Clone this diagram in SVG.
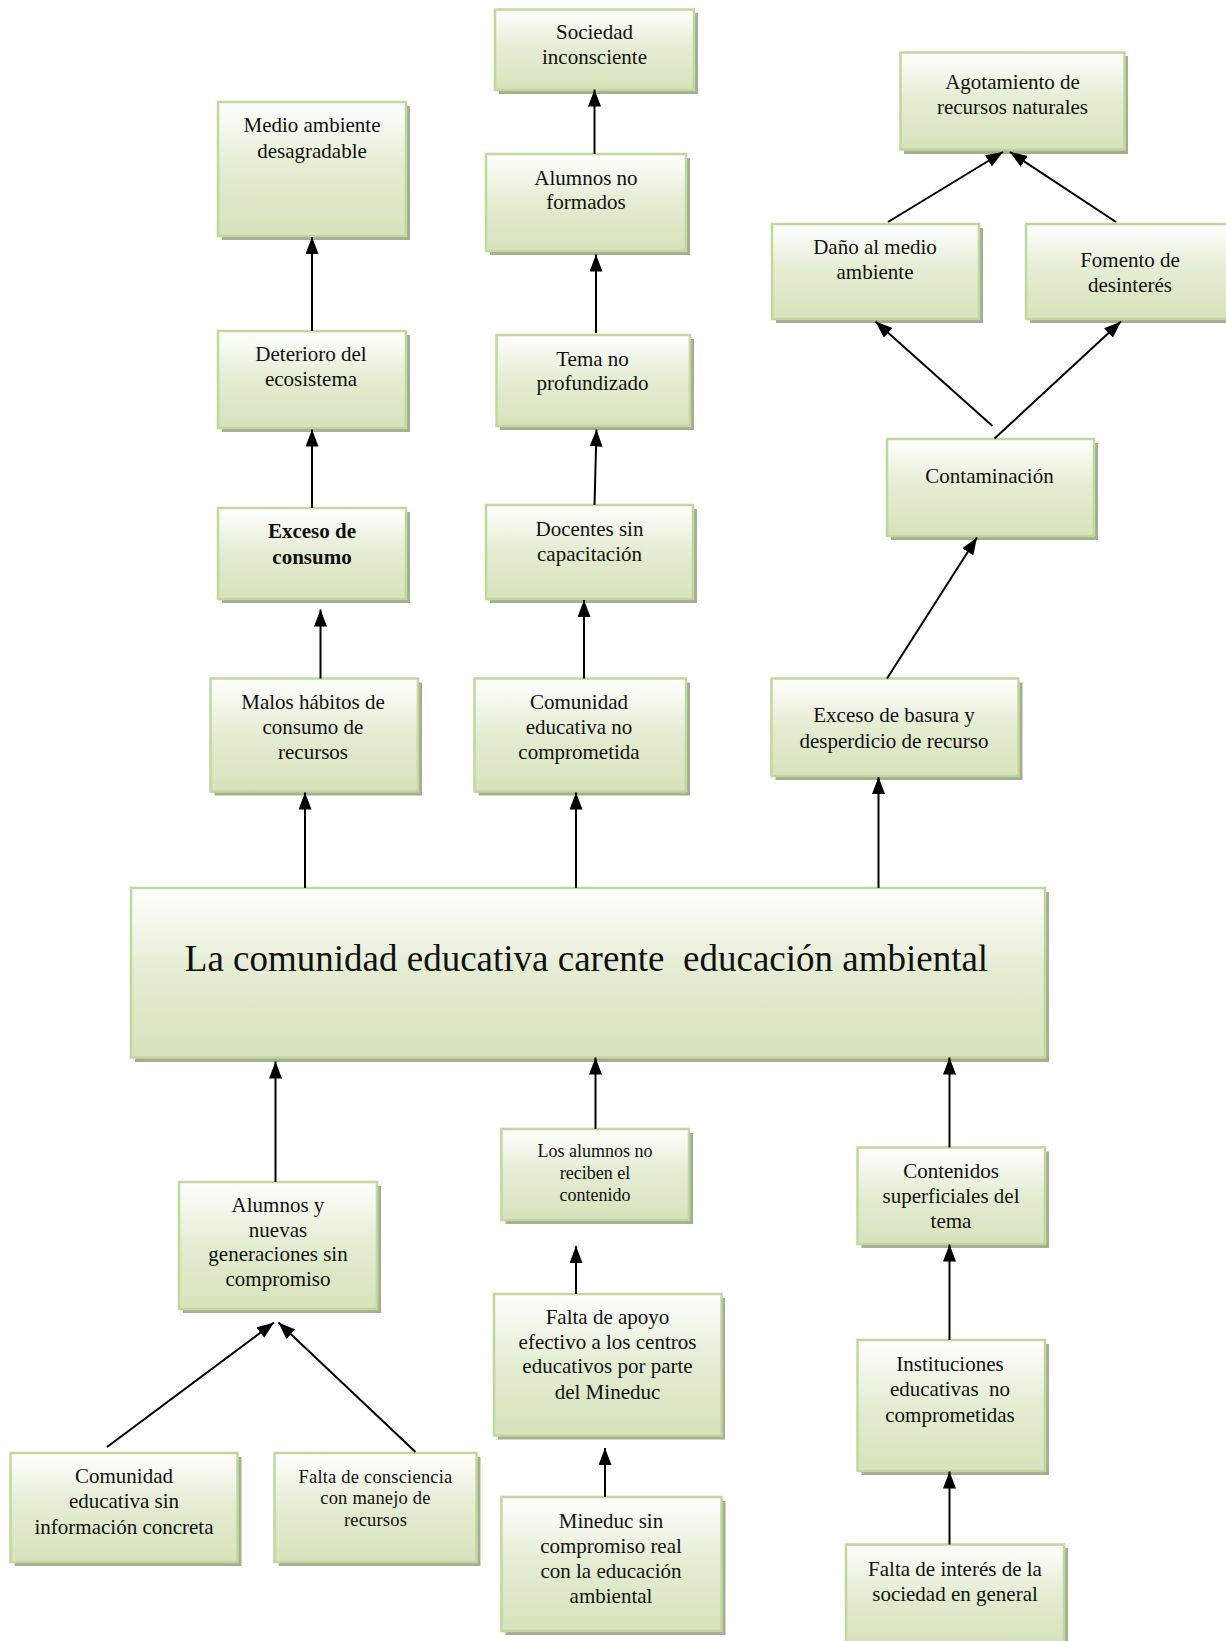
<svg xmlns="http://www.w3.org/2000/svg" width="1226" height="1641" viewBox="0 0 1226 1641">
<style>
.s{fill:#a5ae91}
.b{fill:url(#g);stroke:#c3d69b;stroke-width:2.5}
text{font-family:"Liberation Serif","Times New Roman",serif;font-size:21px;fill:#111;text-anchor:middle}
.sm{font-size:18px}
.sm2{font-size:18.5px;letter-spacing:0.2px}
.big{font-size:37px;white-space:pre}
.bold{font-weight:bold}
#connectors line{stroke:#000;stroke-width:2;marker-end:url(#ah)}
</style>
<defs>
<linearGradient id="g" x1="0" y1="0" x2="0" y2="1">
<stop offset="0" stop-color="#ffffff"/>
<stop offset="0.5" stop-color="#e4ecd2"/>
<stop offset="1" stop-color="#d7e3bb"/>
</linearGradient>
<marker id="ah" markerUnits="userSpaceOnUse" markerWidth="18" markerHeight="14" refX="17" refY="6.5" orient="auto">
<path d="M0,0 L17,6.5 L0,13 z" fill="#000"/>
</marker>
</defs>
<rect width="1226" height="1641" fill="#fff"/>

<g id="n-sociedad"><rect class="s" x="499" y="13" width="199" height="81"/><rect class="b" x="495" y="9.5" width="199" height="80.5"/>
<text x="594.5" y="38.5">Sociedad</text><text x="594.5" y="63.5">inconsciente</text></g>

<g id="n-medio"><rect class="s" x="222" y="106" width="188" height="134"/><rect class="b" x="218" y="102" width="188" height="134"/>
<text x="312" y="131.5">Medio ambiente</text><text x="312" y="157.5">desagradable</text></g>

<g id="n-agotamiento"><rect class="s" x="904" y="56" width="224" height="98"/><rect class="b" x="900.5" y="52.5" width="224" height="97"/>
<text x="1012.5" y="88.5">Agotamiento de</text><text x="1012.5" y="113.5">recursos naturales</text></g>

<g id="n-alumnosnoformados"><rect class="s" x="490" y="158" width="200" height="97"/><rect class="b" x="486" y="154" width="200" height="97"/>
<text x="586" y="185">Alumnos no</text><text x="586" y="209">formados</text></g>

<g id="n-dano"><rect class="s" x="776" y="228" width="207" height="95"/><rect class="b" x="772" y="224" width="207" height="95"/>
<text x="875" y="254">Daño al medio</text><text x="875" y="279">ambiente</text></g>

<g id="n-fomento"><rect class="s" x="1030" y="228" width="210" height="95"/><rect class="b" x="1026" y="224" width="210" height="95"/>
<text x="1130" y="266.5">Fomento de</text><text x="1130" y="291.5">desinterés</text></g>

<g id="n-deterioro"><rect class="s" x="222" y="335" width="188" height="97"/><rect class="b" x="218" y="331" width="188" height="97"/>
<text x="311" y="361">Deterioro del</text><text x="311" y="386">ecosistema</text></g>

<g id="n-tema"><rect class="s" x="500" y="339" width="194" height="91"/><rect class="b" x="496.5" y="335" width="193.5" height="91"/>
<text x="592.5" y="366">Tema no</text><text x="592.5" y="390">profundizado</text></g>

<g id="n-contaminacion"><rect class="s" x="891" y="443" width="207" height="97"/><rect class="b" x="887" y="439" width="207" height="97"/>
<text x="989.5" y="483">Contaminación</text></g>

<g id="n-excesoconsumo"><rect class="s" x="222" y="512" width="188" height="91"/><rect class="b" x="218" y="508" width="188" height="91"/>
<text class="bold" x="312" y="538">Exceso de</text><text class="bold" x="312" y="564">consumo</text></g>

<g id="n-docentes"><rect class="s" x="490" y="509" width="207" height="94"/><rect class="b" x="486" y="505" width="207" height="94"/>
<text x="589.5" y="536">Docentes sin</text><text x="589.5" y="561">capacitación</text></g>

<g id="n-malos"><rect class="s" x="214.5" y="682.5" width="207.5" height="113"/><rect class="b" x="210.5" y="678.5" width="207.5" height="113"/>
<text x="313" y="708.5">Malos hábitos de</text><text x="313" y="733.5">consumo de</text><text x="313" y="758.5">recursos</text></g>

<g id="n-comunidadnocomp"><rect class="s" x="478.5" y="682.5" width="211.5" height="113"/><rect class="b" x="474.5" y="678.5" width="211.5" height="113"/>
<text x="579" y="708.5">Comunidad</text><text x="579" y="733.5">educativa no</text><text x="579" y="758.5">comprometida</text></g>

<g id="n-basura"><rect class="s" x="775.5" y="682.5" width="247" height="97.5"/><rect class="b" x="771.5" y="678.5" width="247" height="97.5"/>
<text x="894" y="722">Exceso de basura y</text><text x="894" y="748">desperdicio de recurso</text></g>

<g id="n-main"><rect class="s" x="135" y="892" width="914" height="170"/><rect class="b" x="131" y="888" width="914" height="169.5"/>
<text class="big" x="586.5" y="971" xml:space="preserve">La comunidad educativa carente  educación ambiental</text></g>

<g id="n-losalumnos"><rect class="s" x="505.5" y="1133" width="187.5" height="91"/><rect class="b" x="501.5" y="1129" width="187.5" height="91"/>
<text class="sm" x="595" y="1156.5">Los alumnos no</text><text class="sm" x="595" y="1178.5">reciben el</text><text class="sm" x="595" y="1200.5">contenido</text></g>

<g id="n-contenidos"><rect class="s" x="861.5" y="1151.5" width="187.5" height="96.5"/><rect class="b" x="857.5" y="1147.5" width="187.5" height="96.5"/>
<text x="951" y="1177.5">Contenidos</text><text x="951" y="1202.5">superficiales del</text><text x="951" y="1227.5">tema</text></g>

<g id="n-alumnosnuevas"><rect class="s" x="183" y="1186" width="198" height="127"/><rect class="b" x="179" y="1182" width="198" height="127"/>
<text x="278" y="1212">Alumnos y</text><text x="278" y="1237">nuevas</text><text x="278" y="1261">generaciones sin</text><text x="278" y="1286">compromiso</text></g>

<g id="n-faltaapoyo"><rect class="s" x="498" y="1298" width="227" height="141.5"/><rect class="b" x="494" y="1294" width="227.5" height="141.5"/>
<text x="607.5" y="1324">Falta de apoyo</text><text x="607.5" y="1349">efectivo a los centros</text><text x="607.5" y="1373">educativos por parte</text><text x="607.5" y="1398.5">del Mineduc</text></g>

<g id="n-instituciones"><rect class="s" x="861.5" y="1344" width="187.5" height="131"/><rect class="b" x="857.5" y="1340" width="187.5" height="131"/>
<text x="950" y="1371">Instituciones</text><text x="950" y="1396" xml:space="preserve" style="white-space:pre">educativas  no</text><text x="950" y="1421.5">comprometidas</text></g>

<g id="n-comsininfo"><rect class="s" x="14.5" y="1457" width="227" height="109"/><rect class="b" x="10.5" y="1453" width="227" height="109"/>
<text x="124" y="1483">Comunidad</text><text x="124" y="1508">educativa sin</text><text x="124" y="1533.5">información concreta</text></g>

<g id="n-faltaconsciencia"><rect class="s" x="278.5" y="1457" width="202" height="109"/><rect class="b" x="274.5" y="1453" width="202" height="109"/>
<text class="sm2" x="375.5" y="1482.5">Falta de consciencia</text><text class="sm2" x="375.5" y="1504">con manejo de</text><text class="sm2" x="375.5" y="1525.5">recursos</text></g>

<g id="n-mineduc"><rect class="s" x="505.5" y="1501" width="220" height="134"/><rect class="b" x="501.5" y="1497" width="220" height="134"/>
<text x="611" y="1528">Mineduc sin</text><text x="611" y="1553">compromiso real</text><text x="611" y="1577.5">con la educación</text><text x="611" y="1602.5">ambiental</text></g>

<g id="n-faltainteres"><rect class="s" x="850" y="1548" width="218" height="100"/><rect class="b" x="846" y="1544.5" width="218" height="100"/>
<text x="955" y="1575.5">Falta de interés de la</text><text x="955" y="1600.5">sociedad en general</text></g>

<g id="connectors">
<line x1="312" y1="331" x2="312" y2="237"/>
<line x1="312" y1="508" x2="312" y2="429.5"/>
<line x1="320.5" y1="678.5" x2="320.5" y2="609.5"/>
<line x1="305" y1="888" x2="305" y2="792.5"/>
<line x1="594.5" y1="154" x2="594.5" y2="89.5"/>
<line x1="596" y1="333" x2="596" y2="254.5"/>
<line x1="594.5" y1="505" x2="596.5" y2="429.5"/>
<line x1="584" y1="678.5" x2="584" y2="600"/>
<line x1="576" y1="888" x2="576" y2="792.5"/>
<line x1="888" y1="222" x2="1003" y2="152"/>
<line x1="1116" y1="222" x2="1010" y2="152"/>
<line x1="992.5" y1="426" x2="875.5" y2="321.5"/>
<line x1="994.5" y1="438.5" x2="1121" y2="321.5"/>
<line x1="887" y1="678.5" x2="977" y2="537.5"/>
<line x1="878.5" y1="888" x2="878.5" y2="777"/>
<line x1="275.5" y1="1182" x2="275.5" y2="1061.5"/>
<line x1="595.5" y1="1129" x2="595.5" y2="1057.5"/>
<line x1="949.5" y1="1147.5" x2="949.5" y2="1057.5"/>
<line x1="107" y1="1447" x2="274" y2="1322.5"/>
<line x1="415.5" y1="1452" x2="278.5" y2="1322.5"/>
<line x1="576" y1="1294" x2="576" y2="1246"/>
<line x1="605" y1="1497" x2="605" y2="1448"/>
<line x1="949.5" y1="1340" x2="949.5" y2="1244.5"/>
<line x1="949.5" y1="1544.5" x2="949.5" y2="1471.5"/>
</g>
</svg>
